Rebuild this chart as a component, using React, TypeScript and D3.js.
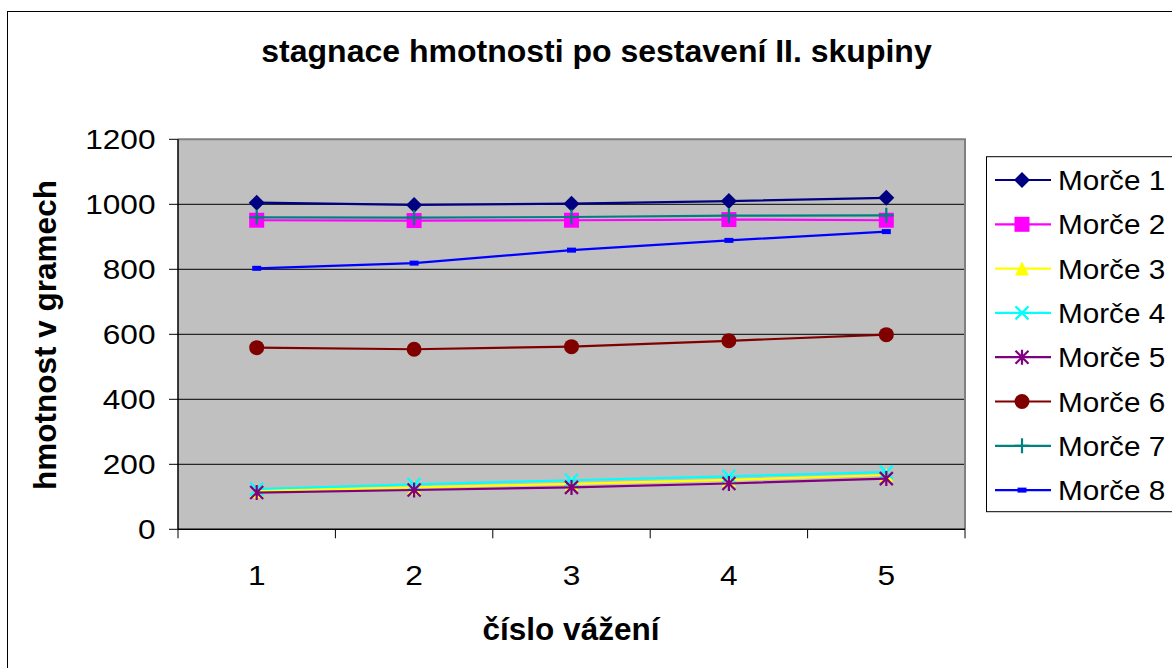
import React from "react";
import * as d3 from "d3";

// ---- data ----
const categories = ["1", "2", "3", "4", "5"];
const seriesNames = ["Morče 1", "Morče 2", "Morče 3", "Morče 4", "Morče 5", "Morče 6", "Morče 7", "Morče 8"];
const morce1 = [1005, 998, 1002, 1010, 1020];
const morce2 = [951, 950, 951, 953, 951];
const morce3 = [118, 129, 140, 152, 167];
const morce4 = [124, 138, 151, 163, 176];
const morce5 = [113, 121, 129, 141, 156];
const morce6 = [559, 554, 562, 580, 599];
const morce7 = [960, 959, 961, 965, 966];
const morce8 = [803, 819, 859, 889, 916];
const yTicks = [0, 200, 400, 600, 800, 1000, 1200];

const seriesValues = [morce1, morce2, morce3, morce4, morce5, morce6, morce7, morce8];
const seriesColors = ["#000080", "#FF00FF", "#FFFF00", "#00FFFF", "#800080", "#800000", "#008080", "#0000FF"];
const seriesMarkers = ["diamond", "square", "triangle", "x", "asterisk", "circle", "plus", "dash"];

const W = 1172;
const H = 668;
const plot = { left: 178, right: 965, top: 139.3, bottom: 529.3 };
const FONT = "'Liberation Sans', Arial, sans-serif";

function Marker({ type, x, y, color }: { type: string; x: number; y: number; color: string }) {
  const t = `translate(${x},${y})`;
  switch (type) {
    case "diamond": {
      const s = 8;
      return <path transform={t} d={`M0,${-s}L${s},0L0,${s}L${-s},0Z`} fill={color} />;
    }
    case "square": {
      const s = 7.5;
      return <rect transform={t} x={-s} y={-s} width={2 * s} height={2 * s} fill={color} />;
    }
    case "triangle": {
      const s = 7;
      return <path transform={t} d={`M0,${-s}L${s},${s}L${-s},${s}Z`} fill={color} />;
    }
    case "x": {
      const s = 6.5;
      return <path transform={t} d={`M${-s},${-s}L${s},${s}M${s},${-s}L${-s},${s}`} stroke={color} strokeWidth={2.2} fill="none" />;
    }
    case "asterisk": {
      const s = 6.5;
      return (
        <path transform={t} d={`M${-s},${-s}L${s},${s}M${s},${-s}L${-s},${s}M0,${-s - 1}L0,${s + 1}`} stroke={color} strokeWidth={2.2} fill="none" />
      );
    }
    case "circle":
      return <circle cx={x} cy={y} r={7.5} fill={color} />;
    case "plus": {
      const s = 7.5;
      return <path transform={t} d={`M${-s},0L${s},0M0,${-s}L0,${s}`} stroke={color} strokeWidth={2.2} fill="none" />;
    }
    case "dash":
      return <rect transform={t} x={-4.5} y={-2.5} width={9} height={5} fill={color} />;
    default:
      return null;
  }
}

function SText({ x, y, size, anchor, children, sx }: any) {
  return (
    <text transform={`translate(${x},${y}) scale(${sx},1)`} fontSize={size} fontFamily={FONT} textAnchor={anchor} fill="#000">
      {children}
    </text>
  );
}

export default function App() {
  const x = d3.scaleBand<string>().domain(categories).range([plot.left, plot.right]).padding(0);
  const cx = (c: string) => (x(c) as number) + x.bandwidth() / 2;
  const y = d3.scaleLinear().domain([0, 1200]).range([plot.bottom, plot.top]);
  const line = d3
    .line<number>()
    .x((_, i) => cx(categories[i]))
    .y((d) => y(d));

  const xBoundaries = [...categories.map((c) => x(c) as number), plot.right];

  const legendX = 986;
  const legendTop = 156.7;
  const legendBottom = 511.7;
  const rowH = 44.3;
  const rowY0 = 180;

  return (
    <svg width={W} height={H} style={{ position: "absolute", left: 0, top: 0, background: "#fff" }}>
      <rect x={0} y={0} width={W} height={H} fill="#fff" />
      <rect x={7.5} y={11.5} width={W + 20} height={H + 20} fill="none" stroke="#000" strokeWidth={1} />

      <text x={596.5} y={62} fontSize={32} fontWeight="bold" fontFamily={FONT} textAnchor="middle">
        stagnace hmotnosti po sestavení II. skupiny
      </text>

      <rect x={plot.left} y={plot.top} width={plot.right - plot.left} height={plot.bottom - plot.top} fill="#C0C0C0" />
      {yTicks.slice(1, -1).map((v) => (
        <line key={v} x1={plot.left} x2={plot.right} y1={y(v)} y2={y(v)} stroke="#000" strokeWidth={1} />
      ))}
      <path d={`M${plot.left},${plot.top}H${plot.right}V${plot.bottom}`} fill="none" stroke="#808080" strokeWidth={2} />

      <line x1={plot.left} x2={plot.left} y1={plot.top} y2={plot.bottom} stroke="#000" strokeWidth={1.5} />
      <line x1={plot.left} x2={plot.right} y1={plot.bottom} y2={plot.bottom} stroke="#000" strokeWidth={1.5} />
      {yTicks.map((v) => (
        <g key={v}>
          <line x1={plot.left - 9} x2={plot.left} y1={y(v)} y2={y(v)} stroke="#000" strokeWidth={1} />
          <SText x={155.5} y={y(v) + 10} size={28} sx={1.13} anchor="end">
            {v}
          </SText>
        </g>
      ))}
      {xBoundaries.map((b, i) => (
        <line key={i} x1={b} x2={b} y1={plot.bottom} y2={plot.bottom + 9} stroke="#000" strokeWidth={1} />
      ))}
      {categories.map((c) => (
        <SText key={c} x={cx(c)} y={585} size={28} sx={1.13} anchor="middle">
          {c}
        </SText>
      ))}

      <text x={571} y={640} fontSize={31.5} fontWeight="bold" fontFamily={FONT} textAnchor="middle">
        číslo vážení
      </text>
      <text transform={`translate(56,335) rotate(-90)`} fontSize={31.5} fontWeight="bold" fontFamily={FONT} textAnchor="middle">
        hmotnost v gramech
      </text>

      {seriesValues.map((vals, si) => (
        <g key={si}>
          <path d={line(vals) as string} fill="none" stroke={seriesColors[si]} strokeWidth={2.2} />
          {vals.map((v, i) => (
            <Marker key={i} type={seriesMarkers[si]} x={cx(categories[i])} y={y(v)} color={seriesColors[si]} />
          ))}
        </g>
      ))}

      <rect x={legendX + 0.5} y={legendTop} width={W} height={legendBottom - legendTop} fill="#fff" stroke="#000" strokeWidth={1} />
      {seriesNames.map((name, i) => {
        const ly = rowY0 + i * rowH;
        return (
          <g key={name}>
            <line x1={995} x2={1051} y1={ly} y2={ly} stroke={seriesColors[i]} strokeWidth={2.2} />
            <Marker type={seriesMarkers[i]} x={1022} y={ly} color={seriesColors[i]} />
            <SText x={1058} y={ly + 10} size={28} sx={1.06} anchor="start">
              {name}
            </SText>
          </g>
        );
      })}
    </svg>
  );
}
